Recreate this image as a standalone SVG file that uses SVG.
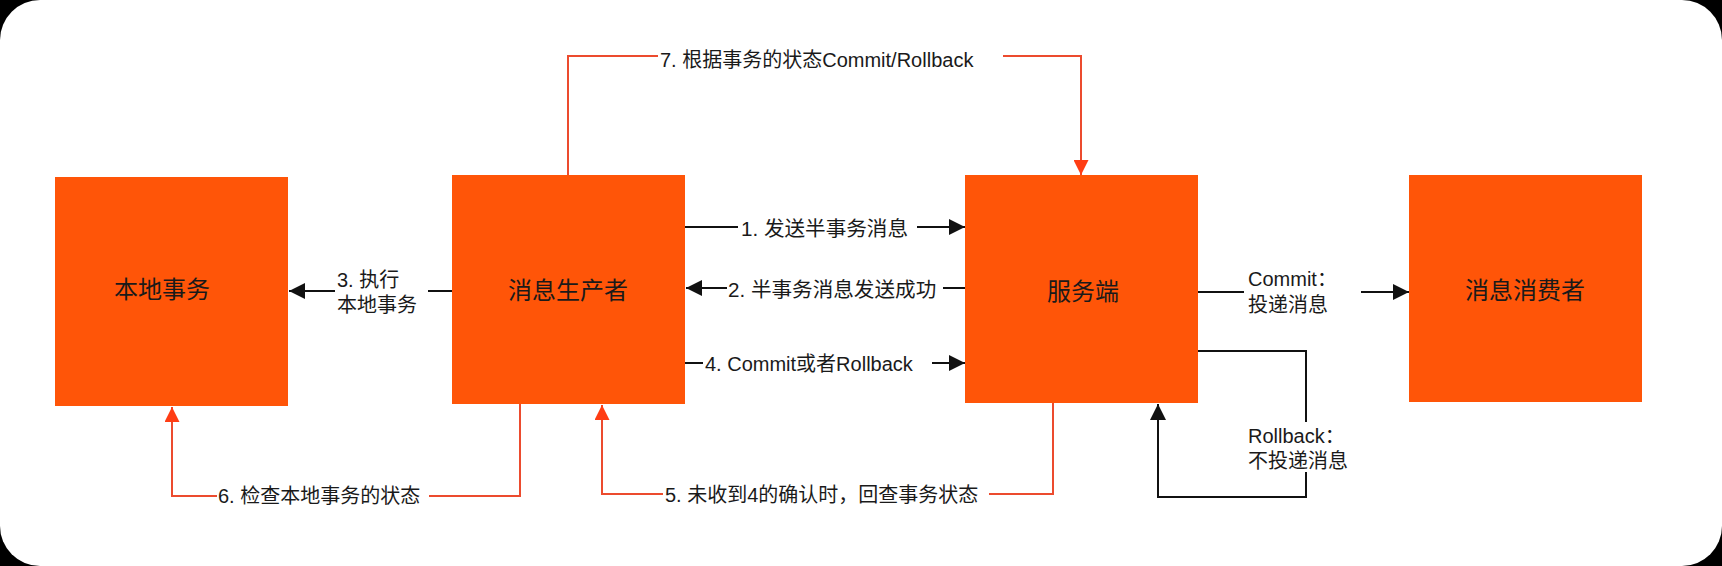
<svg xmlns="http://www.w3.org/2000/svg" width="1722" height="566" viewBox="0 0 1722 566">
<style>
.box{fill:#FF5508;}
.nt{font-family:"Liberation Sans","Noto Sans CJK SC",sans-serif;font-size:24px;fill:#1a1a1a;text-anchor:middle;dominant-baseline:central;}
.lb{font-family:"Liberation Sans","Noto Sans CJK SC",sans-serif;font-size:20px;fill:#1a1a1a;dominant-baseline:central;}
.lb2{font-size:20.6px;}
.bk{fill:none;stroke:#111;stroke-width:2;}
.rd{fill:none;stroke:#EC4B2E;stroke-width:2;}
</style>
<defs>
<marker id="ab" markerUnits="userSpaceOnUse" markerWidth="16" markerHeight="16" viewBox="0 0 16 16" refX="16" refY="8" orient="auto">
<path d="M0,0 L16,8 L0,16 z" fill="#111"/>
</marker>
<marker id="ar" markerUnits="userSpaceOnUse" markerWidth="15" markerHeight="15" viewBox="0 0 15 15" refX="15" refY="7.5" orient="auto">
<path d="M0,0 L15,7.5 L0,15 z" fill="#FF3D14"/>
</marker>
</defs>
<rect x="0" y="0" width="1722" height="566" fill="#000"/>
<rect x="0" y="0" width="1722" height="566" rx="40" ry="40" fill="#fff"/>

<g id="node-local">
<rect class="box" x="55" y="177" width="233" height="229"/>
<text class="nt" x="162" y="289">本地事务</text>
</g>
<g id="node-producer">
<rect class="box" x="452" y="175" width="233" height="229"/>
<text class="nt" x="568" y="290">消息生产者</text>
</g>
<g id="node-server">
<rect class="box" x="965" y="175" width="233" height="228"/>
<text class="nt" x="1083" y="291">服务端</text>
</g>
<g id="node-consumer">
<rect class="box" x="1409" y="175" width="233" height="227"/>
<text class="nt" x="1525" y="290">消息消费者</text>
</g>

<g id="connectors">
<!-- 1 -->
<line class="bk" x1="685" y1="227" x2="738" y2="227"/>
<line class="bk" x1="917" y1="227" x2="965" y2="227" marker-end="url(#ab)"/>
<text class="lb lb2" x="741" y="228">1. 发送半事务消息</text>
<!-- 2 -->
<line class="bk" x1="965" y1="288" x2="943" y2="288"/>
<line class="bk" x1="727" y1="288" x2="686" y2="288" marker-end="url(#ab)"/>
<text class="lb lb2" x="728" y="289">2. 半事务消息发送成功</text>
<!-- 3 -->
<line class="bk" x1="452" y1="291" x2="428" y2="291"/>
<line class="bk" x1="335" y1="291" x2="289" y2="291" marker-end="url(#ab)"/>
<text class="lb" x="337" y="280">3. 执行</text>
<text class="lb" x="337" y="305">本地事务</text>
<!-- 4 -->
<line class="bk" x1="685" y1="363" x2="703" y2="363"/>
<line class="bk" x1="932" y1="363" x2="965" y2="363" marker-end="url(#ab)"/>
<text class="lb" x="705" y="364">4. Commit或者Rollback</text>
<!-- Commit -->
<line class="bk" x1="1198" y1="292" x2="1244" y2="292"/>
<line class="bk" x1="1361" y1="292" x2="1409" y2="292" marker-end="url(#ab)"/>
<text class="lb" x="1248" y="279">Commit：</text>
<text class="lb" x="1248" y="305">投递消息</text>
<!-- Rollback -->
<polyline class="bk" points="1198,351 1306,351 1306,422"/>
<polyline class="bk" points="1306,472 1306,497 1158,497 1158,404" marker-end="url(#ab)"/>
<text class="lb" x="1248" y="436">Rollback：</text>
<text class="lb" x="1248" y="461">不投递消息</text>
<!-- 7 -->
<polyline class="rd" points="568,175 568,56 658,56"/>
<polyline class="rd" points="1003,56 1081,56 1081,175" marker-end="url(#ar)"/>
<text class="lb" x="660" y="60">7. 根据事务的状态Commit/Rollback</text>
<!-- 6 -->
<polyline class="rd" points="520,404 520,496 429,496"/>
<polyline class="rd" points="217,496 172,496 172,407" marker-end="url(#ar)"/>
<text class="lb" x="218" y="496">6. 检查本地事务的状态</text>
<!-- 5 -->
<polyline class="rd" points="1053,403 1053,494 989,494"/>
<polyline class="rd" points="663,494 602,494 602,405" marker-end="url(#ar)"/>
<text class="lb" x="665" y="495">5. 未收到4的确认时，回查事务状态</text>
</g>
</svg>
